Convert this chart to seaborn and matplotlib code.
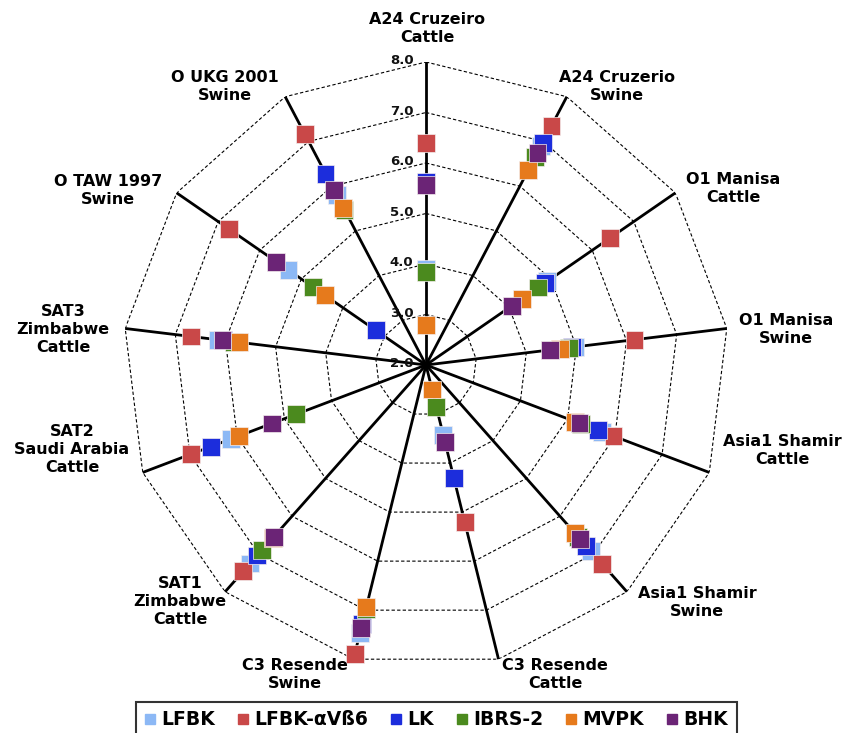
import matplotlib
matplotlib.use('Agg')
import matplotlib.pyplot as plt
from matplotlib.lines import Line2D
import seaborn as sns
import pandas as pd
import numpy as np

categories = ['A24 Cruzeiro\nCattle', 'A24 Cruzerio\nSwine', 'O1 Manisa\nCattle',
              'O1 Manisa\nSwine', 'Asia1 Shamir\nCattle', 'Asia1 Shamir\nSwine',
              'C3 Resende\nCattle', 'C3 Resende\nSwine', 'SAT1\nZimbabwe\nCattle',
              'SAT2\nSaudi Arabia\nCattle', 'SAT3\nZimbabwe\nCattle',
              'O TAW 1997\nSwine', 'O UKG 2001\nSwine']

series_names = ['LFBK', 'LFBK-αVß6', 'LK', 'IBRS-2', 'MVPK', 'BHK']
lfbk = [3.90, 6.90, 4.92, 4.97, 5.73, 6.92, 3.43, 7.46, 7.25, 6.13, 6.15, 5.31, 5.81]
lfbk_avb6 = [6.39, 7.35, 6.42, 6.16, 5.97, 7.26, 5.20, 7.90, 7.46, 6.98, 6.69, 6.74, 7.17]
lk = [5.62, 6.97, 4.87, 4.91, 5.65, 6.78, 4.30, 7.29, 7.04, 6.56, 6.05, 3.21, 6.28]
ibrs2 = [3.84, 6.65, 4.70, 4.85, 5.29, 6.55, 2.86, 6.98, 6.89, 4.75, 5.83, 4.71, 5.47]
mvpk = [2.79, 6.36, 4.30, 4.68, 5.16, 6.45, 2.50, 6.93, 6.57, 5.96, 5.72, 4.43, 5.52]
bhk = [5.56, 6.75, 4.07, 4.48, 5.25, 6.61, 3.57, 7.36, 6.55, 5.27, 6.06, 5.60, 5.92]
ring_values = [2, 3, 4, 5, 6, 7, 8]

colors = ['#8cb8f5', '#c94848', '#1c2ddc', '#4b8a1e', '#e67a1c', '#6b2476']

sns.set_style('white')
plt.rcParams['font.family'] = ['DejaVu Sans']
plt.rcParams['font.weight'] = 'bold'
plt.rcParams['text.color'] = 'black'

n = len(categories)
angles = np.arange(n) * 2 * np.pi / n

rows = []
for name, vals in zip(series_names, [lfbk, lfbk_avb6, lk, ibrs2, mvpk, bhk]):
    for a, v in zip(angles, vals):
        rows.append({'theta': a, 'value': v, 'line': name})
df = pd.DataFrame(rows)

fig = plt.figure(figsize=(8.46, 7.33), dpi=100)
W, H = 846, 733
cx, cy, R = 426, 365, 303
ax = fig.add_axes([(cx - R) / W, (H - cy - R) / H, 2 * R / W, 2 * R / H], projection='polar')
ax.set_theta_zero_location('N')
ax.set_theta_direction(-1)
ax.set_ylim(2, 8)
ax.grid(False)
ax.spines['polar'].set_visible(False)
ax.set_xticks([])
ax.set_yticks([])
ax.patch.set_alpha(0)

# dashed polygon rings
closed = np.append(angles, angles[0])
for v in ring_values[1:]:
    ax.plot(closed, [v] * len(closed), color='black', lw=0.8, ls=(0, (3, 2)), zorder=1)

# spokes
for a in angles:
    ax.plot([a, a], [2, 8], color='black', lw=2, zorder=2)

sns.scatterplot(data=df, x='theta', y='value', hue='line', palette=colors,
                marker='s', s=165, edgecolor='#f4eeee', linewidth=0.5,
                legend=False, ax=ax, zorder=3)
ax.collections[-1].set_clip_on(False)
ax.set_xlabel('')
ax.set_ylabel('')

# radial tick labels along top spoke
for v in ring_values:
    ax.annotate(f'{v:.1f}', xy=(0, v), xytext=(-9, 1), textcoords='offset points',
                ha='right', va='center', fontsize=9.5, fontweight='bold', color='#111111',
                zorder=4)

# category labels (pixel centres)
label_pos = [(427, 29), (617, 87), (733, 189), (786, 329), (782, 451), (697, 603),
             (555, 675), (295, 675), (180, 601), (72, 450), (63, 330), (108, 191), (225, 87)]
for text, (px, py) in zip(categories, label_pos):
    fig.text(px / W, 1 - py / H, text, ha='center', va='center', fontsize=11.5,
             fontweight='bold', linespacing=1.25, multialignment='center')

handles = [Line2D([], [], marker='s', ls='', color=c, markersize=7) for c in colors]
leg = fig.legend(handles, series_names, loc='upper center', ncol=6,
                 bbox_to_anchor=(436 / W, 1 - 702 / H), frameon=True, fancybox=False,
                 prop={'weight': 'bold', 'size': 13.5}, handlelength=0.6, handletextpad=0.3,
                 columnspacing=1.2, borderpad=0.45, borderaxespad=0)
leg.get_frame().set_edgecolor('black')
leg.get_frame().set_linewidth(1.5)

plt.savefig('out.png', dpi=100)
plt.close()
